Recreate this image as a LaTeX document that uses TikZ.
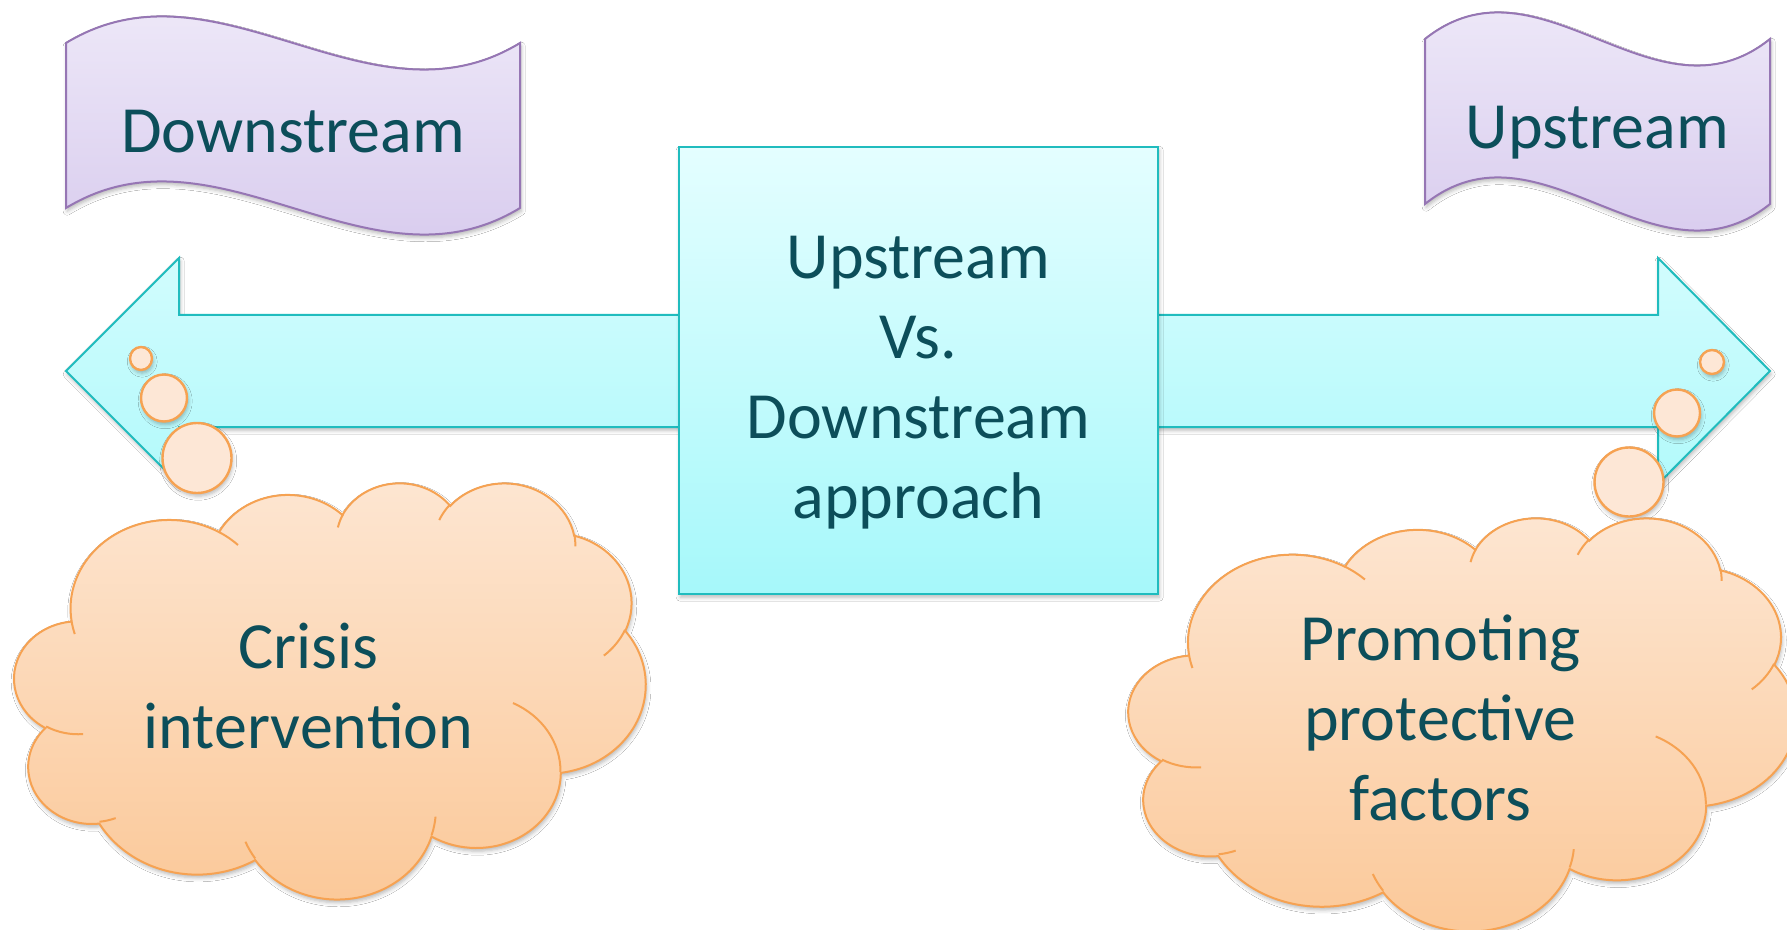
\documentclass[tikz,border=0pt]{standalone}
\usepackage{fontspec}
\setmainfont{Carlito}
\usetikzlibrary{shadows.blur}
\definecolor{InkTeal}{RGB}{12,78,90}
\definecolor{AquaEdge}{RGB}{32,188,190}
\definecolor{AquaTop}{RGB}{228,254,255}
\definecolor{AquaLow}{RGB}{166,248,250}
\definecolor{LilacEdge}{RGB}{150,118,180}
\definecolor{LilacTop}{RGB}{242,238,250}
\definecolor{LilacLow}{RGB}{212,198,236}
\definecolor{PeachEdge}{RGB}{246,162,82}
\definecolor{PeachTop}{RGB}{253,230,210}
\definecolor{PeachLow}{RGB}{251,200,152}
\definecolor{PeachDot}{RGB}{253,231,214}

% one lobe of the cloud outline: radii, start angle, sweep (angles seen from the centre)
\newcommand\puff[4]{arc[x radius=#1,y radius=#2,
  start angle={atan2((#1)*sin(#3),(#2)*cos(#3))},
  delta angle={mod(atan2((#1)*sin((#3)+(#4)),(#2)*cos((#3)+(#4)))-atan2((#1)*sin(#3),(#2)*cos(#3))+720,360)}]}
% cloud in a 432 x 432 box
\newcommand\cloudrim{(39.00,143.70)
  \puff{67.53}{91.90}{-190.4875}{123.7805}
  \puff{53.33}{72.67}{-144.1024}{89.9452}
  \puff{43.65}{59.45}{-145.8079}{99.7230}
  \puff{48.57}{65.95}{-130.9861}{117.2417}
  \puff{53.33}{72.73}{-78.7089}{109.0269}
  \puff{67.75}{92.20}{-46.2673}{130.2690}
  \puff{57.85}{78.67}{0.6250}{114.0333}
  \puff{67.52}{92.15}{22.4516}{115.1726}
  \puff{77.20}{105.43}{66.2426}{75.7110}
  \puff{43.60}{59.18}{-274.9421}{146.7356}
  \puff{43.45}{59.45}{-246.8285}{152.5189} -- cycle}
% the short folds inside the cloud
\newcommand\cloudfolds{
  (46.93,261.77) \puff{43.45}{59.45}{86.742}{26.4295}
  (69.28,348.99) \puff{43.60}{59.18}{73.6105}{11.4475}
  (164.78,390.90) \puff{67.52}{92.15}{137.6242}{14.0811}
  (288.27,347.51) \puff{67.52}{92.15}{6.4533}{15.9984}
  (341.29,229.54) \puff{57.85}{78.67}{-70.2924}{70.9174}
  (417.98,153.54) \puff{53.33}{72.73}{30.3180}{27.7515}
  (383.24,54.26) \puff{48.57}{65.95}{-13.7443}{14.8589}
  (290.78,39.52) \puff{48.57}{65.95}{-149.1815}{18.1954}
  (221.41,47.20) \puff{43.65}{59.45}{-163.4943}{17.6864}
  (140.00,51.92) \puff{67.53}{91.90}{-66.7070}{12.3194}
  (41.27,157.89) \puff{67.53}{91.90}{157.6544}{11.8582}}

\tikzset{
  softshadow/.style={blur shadow={shadow xshift=0.6pt,shadow yshift=-1.6pt,
    shadow blur radius=2pt,shadow opacity=28}},
  shaftfill/.style={draw=AquaEdge,line width=1pt,top color=AquaTop!70!AquaLow,
    bottom color=AquaLow!80!AquaTop,softshadow},
  hubbox/.style={draw=AquaEdge,line width=1pt,top color=AquaTop,bottom color=AquaLow,
    minimum width=239.5pt,minimum height=223.5pt,inner sep=0pt,softshadow},
  bannerfill/.style={draw=LilacEdge,line width=1pt,top color=LilacTop,
    bottom color=LilacLow,softshadow},
  cloudfill/.style={draw=PeachEdge,line width=1pt,top color=PeachTop,
    bottom color=PeachLow,softshadow},
  puffline/.style={draw=PeachEdge,line width=1pt},
  bubble/.style={draw=PeachEdge,line width=1.2pt,fill=PeachDot,softshadow},
  bigtext/.style={text=InkTeal,font=\fontsize{33}{40}\selectfont,align=center,
    inner sep=0pt,anchor=base},
}

\begin{document}
\begin{tikzpicture}[x=0.5pt,y=-0.5pt]
  \fill[white] (0,0) rectangle (1787,930);
  \useasboundingbox (0,0) rectangle (1787,930);

  % double arrow and the box on it
  \draw[shaftfill] (66,371) -- (179,258) -- (179,315) -- (1658,315) -- (1658,258)
    -- (1770,371) -- (1658,484) -- (1658,427) -- (179,427) -- (179,484) -- cycle;
  \node[hubbox] (hub) at (918.5,370.5) {};
  % base of a multi-line node sits on its last line
  \node[bigtext] (hubtext) at (918.5,518) {Upstream\\Vs.\\Downstream\\approach};

  % wavy banners
  \draw[bannerfill] (66,43) .. controls (217,-49) and (369,135) .. (520,43)
    -- (520,208) .. controls (369,300) and (217,116) .. (66,208) -- cycle;
  \node[bigtext] (downlabel) at (293,153) {Downstream};
  \draw[bannerfill] (1425,39) .. controls (1540,-53) and (1655,131) .. (1770,39)
    -- (1770,204) .. controls (1655,296) and (1540,112) .. (1425,204) -- cycle;
  \node[bigtext] (uplabel) at (1597.5,149) {Upstream};

  % thought bubbles
  \foreach \cx/\cy/\rx/\ry in {141/358.5/11/11.5, 164/398/23/23.5, 197/458/34.5/35,
      1712/362/12/12, 1677/413/23/23.5, 1629/482/34.5/34.5}
    \draw[bubble] (\cx,\cy) ellipse[x radius=\rx,y radius=\ry];

  % clouds
  \begin{scope}[shift={(14.5,482)},x=0.7303pt,y=-0.4815pt]
    \path[cloudfill] \cloudrim;
    \draw[puffline] \cloudfolds;
  \end{scope}
  \node[bigtext] (crisis) at (308.5,748) {Crisis\\intervention};

  \begin{scope}[shift={(1128.7,517)},x=0.7720pt,y=-0.4780pt]
    \path[cloudfill] \cloudrim;
    \draw[puffline] \cloudfolds;
  \end{scope}
  \node[bigtext] (promote) at (1440.5,820) {Promoting\\protective\\factors};
\end{tikzpicture}
\end{document}
